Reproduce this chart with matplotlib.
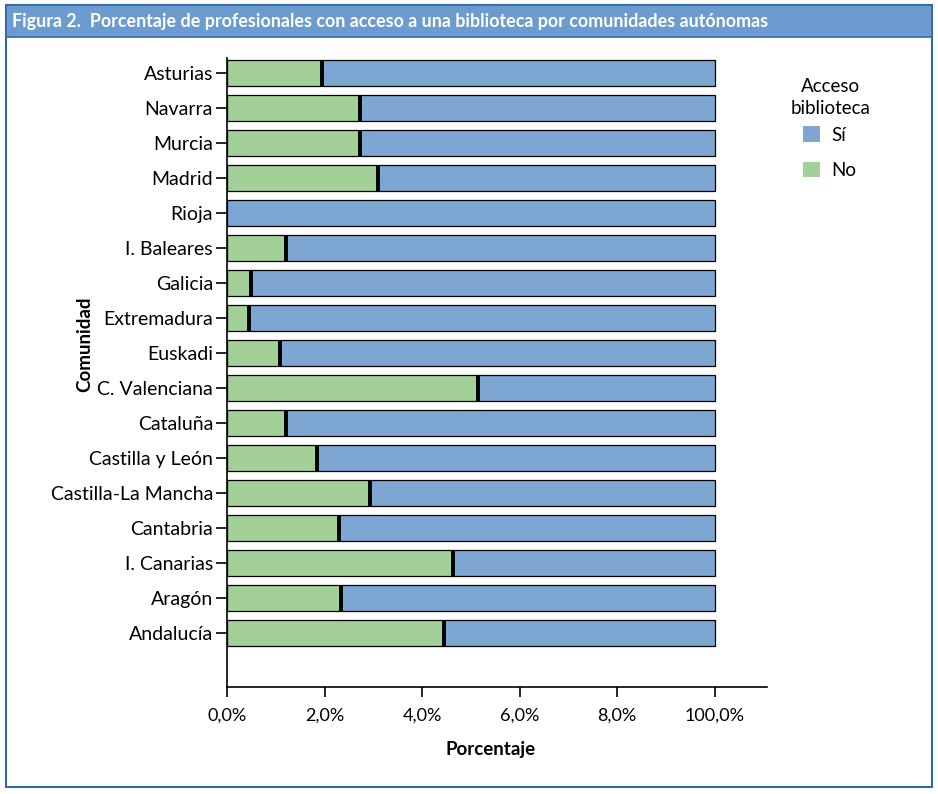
import numpy as np
import matplotlib.pyplot as plt
from matplotlib.patches import Rectangle

plt.rcParams['font.family'] = ['Lato', 'DejaVu Sans']

# Data, bottom to top
comunidades = ["Andalucía", "Aragón", "I. Canarias", "Cantabria", "Castilla-La Mancha",
               "Castilla y León", "Cataluña", "C. Valenciana", "Euskadi", "Extremadura",
               "Galicia", "I. Baleares", "Rioja", "Madrid", "Murcia", "Navarra", "Asturias"]
no_pct = [44.5, 23.4, 46.4, 23.0, 29.3, 18.5, 12.1, 51.5, 10.9, 4.5,
          4.9, 12.1, 0.0, 31.0, 27.3, 27.3, 19.5]
si_pct = [100 - v for v in no_pct]
tick_vals = [0, 20, 40, 60, 80, 100]
tick_labels = ["0,0%", "2,0%", "4,0%", "6,0%", "8,0%", "100,0%"]

green = "#a3cf98"
blue = "#7ea6d2"

fig = plt.figure(figsize=(9.38, 7.94), dpi=100)

# frame and title bar
fig.patches.append(Rectangle((0.006, 0.009), 0.988, 0.985, transform=fig.transFigure,
                             fill=False, edgecolor="#2f6aa6", linewidth=1.5))
fig.patches.append(Rectangle((0.006, 0.954), 0.988, 0.040, transform=fig.transFigure,
                             facecolor="#6c9bd0", edgecolor="#2f6aa6", linewidth=1.2))
fig.text(0.013, 0.973, "Figura 2.  Porcentaje de profesionales con acceso a una biblioteca por comunidades autónomas",
         color="white", fontsize=12.9, fontweight="bold", va="center", ha="left")

ax = fig.add_axes([0.242, 0.135, 0.576, 0.792])
y = np.arange(len(comunidades))
ax.barh(y, no_pct, height=0.74, color=green, edgecolor="black", linewidth=0.9, label="No")
ax.barh(y, si_pct, left=no_pct, height=0.74, color=blue, edgecolor="black", linewidth=0.9, label="Sí")
# dividing line between the two segments
mask = np.array(no_pct) > 0
ax.vlines(np.array(no_pct)[mask], y[mask] - 0.37, y[mask] + 0.37, color="black", linewidth=2.8)

ax.set_xlim(0, 110.8)
ax.set_ylim(-1.54, 16.43)
ax.set_yticks(y)
ax.set_yticklabels(comunidades, fontsize=14)
ax.set_xticks(tick_vals)
ax.set_xticklabels(tick_labels, fontsize=13)
ax.tick_params(axis="y", length=8, width=1.2, pad=2)
ax.tick_params(axis="x", length=7, width=1.2, pad=8)
for s in ["top", "right"]:
    ax.spines[s].set_visible(False)
ax.spines["left"].set_linewidth(1.2)
ax.spines["bottom"].set_linewidth(1.2)
ax.set_xlabel("Porcentaje", fontsize=13.5, fontweight="bold")
ax.set_ylabel("Comunidad", fontsize=13.5, fontweight="bold")
ax.xaxis.set_label_coords(0.487, -0.086)
ax.yaxis.set_label_coords(-0.248, 0.544)

# legend
fig.text(0.885, 0.902, "Acceso\nbiblioteca", fontsize=13.5, ha="center", va="top",
         multialignment="center", linespacing=1.4)
h, l = ax.get_legend_handles_labels()
leg = fig.legend([h[1], h[0]], ["Sí", "No"], loc="upper left",
                 bbox_to_anchor=(0.838, 0.862), frameon=False, fontsize=13.5,
                 handlelength=0.9, handleheight=0.9, labelspacing=0.95, handletextpad=0.6)
for p in leg.get_patches():
    p.set_edgecolor("none")

fig.savefig("out.png", dpi=100)
